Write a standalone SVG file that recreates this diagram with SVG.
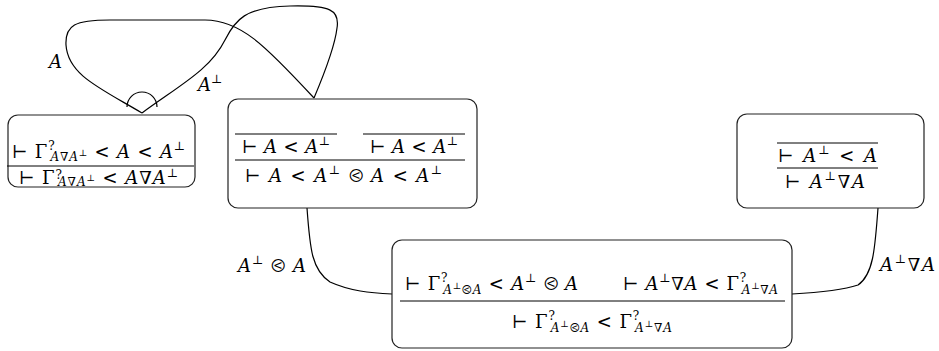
<svg xmlns="http://www.w3.org/2000/svg" width="939" height="351" viewBox="0 0 939 351">
<style>
text{font-family:"DejaVu Serif","Liberation Serif",serif;font-size:18px;fill:#000}
.i{font-style:italic}
.s{font-size:12px}
.ss{font-size:9px}
.box{fill:#fff;stroke:#222;stroke-width:1.2}
.rule{stroke:#000;stroke-width:1}
.wire{fill:none;stroke:#000;stroke-width:1.2}
</style>
<rect width="939" height="351" fill="#fff"/>
<g id="connectors">
<path class="wire" d="M142,113 C100,88 68,75 66,45 C65,25 75,20 110,20 L205,20 C240,20 265,45 314,98"/>
<path class="wire" d="M142,113 C180,85 210,70 225,40 C235,20 245,7 290,6 C330,5 340,10 337,28 C335,45 325,72 314,98"/>
<path class="wire" d="M127,107 A15,15 0 0 1 157,107"/>
<path class="wire" d="M307,208 C310,250 312,270 330,282 C350,291 370,293 392,294"/>
<path class="wire" d="M878,208 C875,250 873,275 858,285 C840,291 810,293 792,294"/>
<text class="i" x="49" y="68">A</text>
<text x="198" y="91"><tspan class="i">A</tspan><tspan class="s" dy="-8">⊥</tspan></text>
<text x="238" y="272" textLength="68" lengthAdjust="spacing"><tspan class="i">A</tspan><tspan class="s" dy="-8">⊥</tspan><tspan dy="8"> ⧀ </tspan><tspan class="i">A</tspan></text>
<text x="880" y="271" textLength="55" lengthAdjust="spacing"><tspan class="i">A</tspan><tspan class="s" dy="-8">⊥</tspan><tspan dy="8">∇</tspan><tspan class="i">A</tspan></text>
</g>
<g id="node1">
<rect class="box" x="8" y="115" width="187" height="72" rx="10"/>
<line class="rule" x1="7" y1="166" x2="194" y2="166"/>
<text x="12" y="158" textLength="173" lengthAdjust="spacing">⊢ Γ<tspan class="s" dy="-8">?</tspan><tspan class="s i" dx="-5" dy="11">A</tspan><tspan class="s">∇</tspan><tspan class="s i">A</tspan><tspan class="ss" dy="-5">⊥</tspan><tspan dy="2"> &lt; </tspan><tspan class="i">A</tspan> &lt; <tspan class="i">A</tspan><tspan class="s" dy="-8">⊥</tspan></text>
<text x="19" y="184" textLength="159" lengthAdjust="spacing">⊢ Γ<tspan class="s" dy="-5">?</tspan><tspan class="s i" dx="-5" dy="7">A</tspan><tspan class="s">∇</tspan><tspan class="s i">A</tspan><tspan class="ss" dy="-5">⊥</tspan><tspan dy="3"> &lt; </tspan><tspan class="i">A</tspan>∇<tspan class="i">A</tspan><tspan class="s" dy="-7">⊥</tspan></text>
</g>
<g id="node2">
<rect class="box" x="228" y="99" width="249" height="109" rx="10"/>
<line class="rule" x1="235" y1="134" x2="337" y2="134"/>
<line class="rule" x1="363" y1="134" x2="465" y2="134"/>
<line class="rule" x1="235" y1="160" x2="465" y2="160"/>
<text x="242" y="153" textLength="88" lengthAdjust="spacing">⊢ <tspan class="i">A</tspan> &lt; <tspan class="i">A</tspan><tspan class="s" dy="-8">⊥</tspan></text>
<text x="370" y="153" textLength="88" lengthAdjust="spacing">⊢ <tspan class="i">A</tspan> &lt; <tspan class="i">A</tspan><tspan class="s" dy="-8">⊥</tspan></text>
<text x="245" y="182" textLength="197" lengthAdjust="spacing">⊢ <tspan class="i">A</tspan> &lt; <tspan class="i">A</tspan><tspan class="s" dy="-8">⊥</tspan><tspan dy="8"> ⧀ </tspan><tspan class="i">A</tspan> &lt; <tspan class="i">A</tspan><tspan class="s" dy="-8">⊥</tspan></text>
</g>
<g id="node3">
<rect class="box" x="737" y="114" width="187" height="94" rx="10"/>
<line class="rule" x1="777" y1="143" x2="878" y2="143"/>
<line class="rule" x1="777" y1="168" x2="878" y2="168"/>
<text x="778" y="162" textLength="99" lengthAdjust="spacing">⊢ <tspan class="i">A</tspan><tspan class="s" dy="-8">⊥</tspan><tspan dy="8"> &lt; </tspan><tspan class="i">A</tspan></text>
<text x="785" y="188" textLength="80" lengthAdjust="spacing">⊢ <tspan class="i">A</tspan><tspan class="s" dy="-8">⊥</tspan><tspan dy="8">∇</tspan><tspan class="i">A</tspan></text>
</g>
<g id="node4">
<rect class="box" x="392" y="240" width="400" height="108" rx="10"/>
<line class="rule" x1="400" y1="301" x2="785" y2="301"/>
<text x="405" y="290" textLength="173" lengthAdjust="spacing">⊢ Γ<tspan class="s" dy="-8">?</tspan><tspan class="s i" dx="-5" dy="12">A</tspan><tspan class="ss" dy="-5">⊥</tspan><tspan class="s" dy="5">⧀</tspan><tspan class="s i">A</tspan><tspan dy="-4"> &lt; </tspan><tspan class="i">A</tspan><tspan class="s" dy="-8">⊥</tspan><tspan dy="8"> ⧀ </tspan><tspan class="i">A</tspan></text>
<text x="623" y="290" textLength="155" lengthAdjust="spacing">⊢ <tspan class="i">A</tspan><tspan class="s" dy="-8">⊥</tspan><tspan dy="8">∇</tspan><tspan class="i">A</tspan> &lt; Γ<tspan class="s" dy="-8">?</tspan><tspan class="s i" dx="-5" dy="12">A</tspan><tspan class="ss" dy="-5">⊥</tspan><tspan class="s" dy="5">∇</tspan><tspan class="s i">A</tspan></text>
<text x="512" y="328" textLength="160" lengthAdjust="spacing">⊢ Γ<tspan class="s" dy="-8">?</tspan><tspan class="s i" dx="-5" dy="12">A</tspan><tspan class="ss" dy="-5">⊥</tspan><tspan class="s" dy="5">⧀</tspan><tspan class="s i">A</tspan><tspan dy="-4"> &lt; </tspan>Γ<tspan class="s" dy="-8">?</tspan><tspan class="s i" dx="-5" dy="12">A</tspan><tspan class="ss" dy="-5">⊥</tspan><tspan class="s" dy="5">∇</tspan><tspan class="s i">A</tspan></text>
</g>
</svg>
